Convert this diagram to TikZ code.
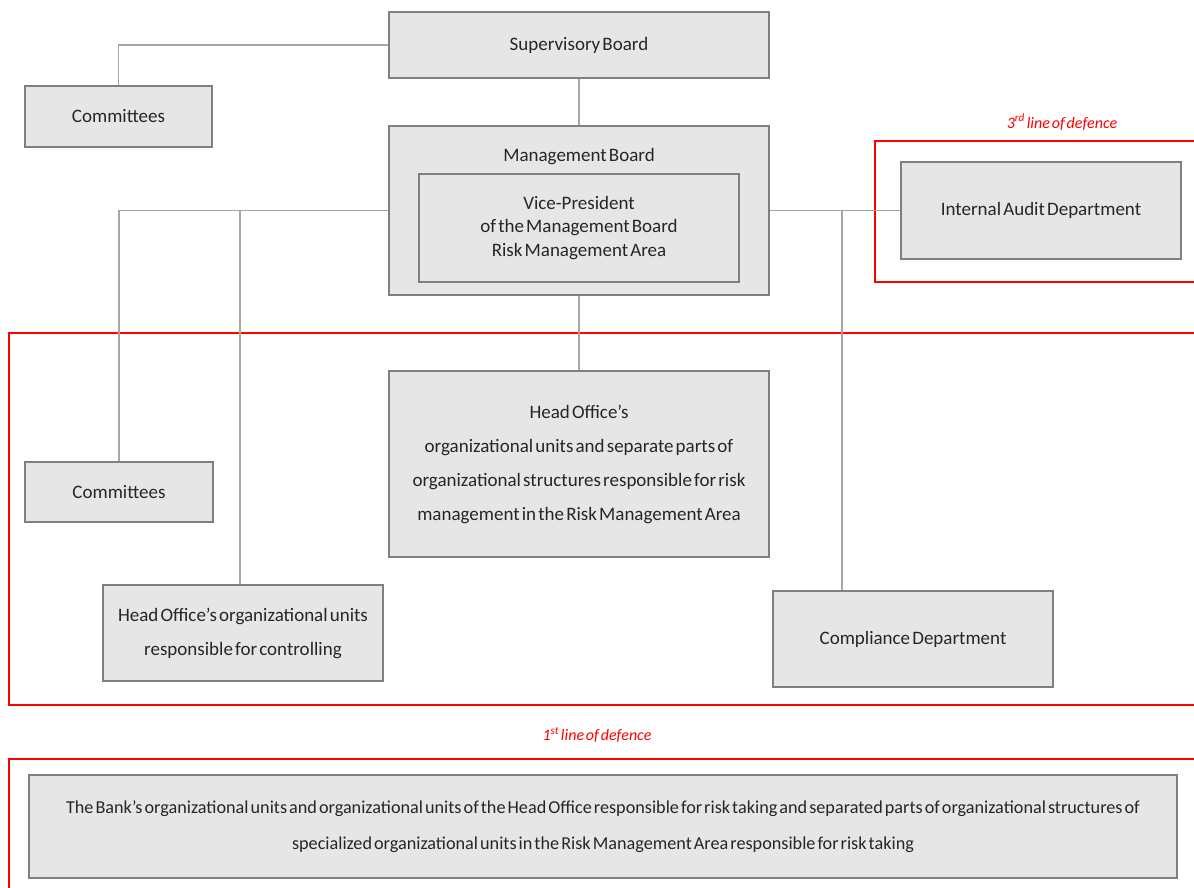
\documentclass[tikz,border=0pt]{standalone}
\usepackage{fontspec}
\setmainfont{Carlito}[WordSpace=0.5]
\definecolor{boxfill}{HTML}{E6E6E6}
\definecolor{boxborder}{HTML}{808080}
\definecolor{linecol}{HTML}{A6A6A6}
\definecolor{textcol}{HTML}{262626}
\definecolor{framered}{HTML}{FF0000}
\begin{document}
\begin{tikzpicture}[x=1pt,y=-1pt,
  box/.style={draw=boxborder, fill=boxfill, line width=2pt, inner sep=0pt, align=center,
    font=\fontsize{19}{34}\selectfont, text=textcol},
  plain/.style={inner sep=0pt, align=center, font=\fontsize{19}{23.5}\selectfont, text=textcol},
  conn/.style={draw=linecol, line width=1.5pt},
  frame/.style={draw=framered, line width=2pt},
  lbl/.style={text=framered, inner sep=0pt, font=\fontsize{16}{18}\selectfont\itshape}]
\useasboundingbox (0,0) rectangle (1194,888);

% red frames
\draw[frame] (1200,141) -- (875,141) -- (875,282) -- (1200,282);
\draw[frame] (1200,333) -- (9,333) -- (9,705) -- (1200,705);
\draw[frame] (1200,759) -- (9,759) -- (9,895);
\node[lbl] (l3) at (1062,122) {3\textsuperscript{rd} line of defence};
\node[lbl] (l1) at (597,735) {1\textsuperscript{st} line of defence};

% boxes
\node[box, minimum width=380pt, minimum height=66pt] (sb) at (579,45) {Supervisory Board};
\node[box, minimum width=187pt, minimum height=61pt] (c1) at (118.5,116.5) {Committees};
\node[box, minimum width=380pt, minimum height=169pt] (mb) at (579,210.5) {};
\node[plain] (mbl) at (579,157) {Management Board};
\node[box, minimum width=320pt, minimum height=108pt, font=\fontsize{19}{23.5}\selectfont] (vp) at (579,228) {Vice-President\\of the Management Board\\Risk Management Area};
\node[box, minimum width=280pt, minimum height=97pt] (ia) at (1041,210.5) {Internal Audit Department};
\node[box, minimum width=380pt, minimum height=186pt] (hor) at (579,464) {Head Office’s\\organizational units and separate parts of\\organizational structures responsible for risk\\management in the Risk Management Area};
\node[box, minimum width=188pt, minimum height=60pt] (c2) at (119,492) {Committees};
\node[box, minimum width=280pt, minimum height=96pt] (hoc) at (243,633) {Head Office’s organizational units\\responsible for controlling};
\node[box, minimum width=280pt, minimum height=96pt] (comp) at (913,639) {Compliance Department};
\node[box, minimum width=1148pt, minimum height=103pt, font=\fontsize{18.2}{36}\selectfont] (bank) at (603,826.5) {The Bank’s organizational units and organizational units of the Head Office responsible for risk taking and separated parts of organizational structures of\\specialized organizational units in the Risk Management Area responsible for risk taking};

% connectors
\coordinate (jl) at (240,210.5);
\coordinate (jr) at (842,210.5);
\draw[conn] (c1.north) |- (sb.west);
\draw[conn] (sb.south) -- (mb.north);
\draw[conn] (mb.south) -- (hor.north);
\draw[conn] (mb.west) -| (c2.north);
\draw[conn] (jl) -- (jl |- hoc.north);
\draw[conn] (mb.east) -- (ia.west);
\draw[conn] (jr) -- (jr |- comp.north);
\end{tikzpicture}
\end{document}
